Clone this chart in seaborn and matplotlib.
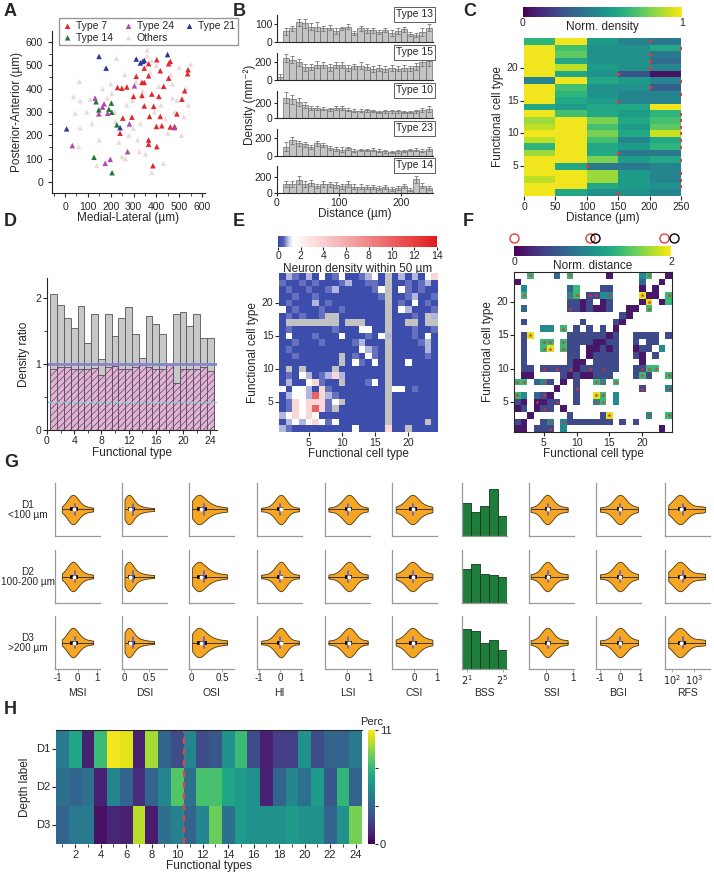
import matplotlib
matplotlib.use('Agg')
import numpy as np
import pandas as pd
import matplotlib.pyplot as plt
from matplotlib.colors import LinearSegmentedColormap
from matplotlib.ticker import MultipleLocator, NullLocator
import seaborn as sns

sns.set_style('ticks')
plt.rcParams['font.family'] = ['Liberation Sans', 'DejaVu Sans']
plt.rcParams['axes.unicode_minus'] = False
plt.rcParams['hatch.linewidth'] = 0.5
plt.rcParams['axes.linewidth'] = 0.8

W, H = 714, 872
TICK = 7.5
LAB = 8.5

# ---------------- A: cell positions (um) ----------------
a_type7_x = [230, 249, 271, 312, 337, 347, 366, 347, 366, 300, 337, 380, 347, 370, 388, 293, 253, 366, 366, 385,
             402, 400, 417, 424, 411, 432, 417, 402, 454, 461, 454, 461, 480, 490, 512, 524, 539, 537, 241]
a_type7_y = [405, 402, 407, 453, 427, 427, 455, 488, 507, 367, 371, 377, 326, 281, 324, 278, 274, 180, 162, 70,
             152, 238, 281, 241, 367, 410, 477, 524, 445, 517, 507, 236, 238, 292, 355, 391, 481, 464, 209]
a_type24_x = [32, 132, 164, 171, 187, 148, 176, 198, 274, 282, 304, 479]
a_type24_y = [156, 359, 321, 335, 295, 292, 80, 97, 130, 249, 412, 233]
a_type21_x = [7, 149, 180, 312, 330, 340, 347, 449, 241]
a_type21_y = [228, 538, 488, 527, 510, 517, 521, 546, 233]
a_type14_x = [127, 136, 148, 192, 203, 205, 227, 206]
a_type14_y = [106, 344, 309, 312, 338, 299, 245, 40]
a_other_x = [37, 63, 66, 44, 66, 110, 139, 60, 95, 118, 150, 165, 185, 200, 205, 218, 225, 236, 250, 262,
             270, 280, 296, 310, 318, 325, 330, 340, 352, 360, 372, 380, 392, 400, 410, 420, 430, 440, 450, 462,
             470, 480, 490, 500, 510, 520, 530, 540, 550, 360, 300, 265, 220, 380, 470]
a_other_y = [366, 431, 348, 295, 231, 355, 70, 150, 300, 250, 180, 400, 360, 420, 380, 300, 530, 170, 110, 460,
             330, 200, 350, 430, 180, 130, 250, 390, 120, 565, 470, 40, 300, 500, 410, 330, 80, 270, 210, 460,
             420, 300, 350, 490, 200, 280, 400, 330, 505, 540, 230, 100, 260, 520, 360]

# ---------------- B: density vs distance ----------------
b_bins = list(range(0, 250, 10))
b_names = ['Type 13', 'Type 15', 'Type 10', 'Type 23', 'Type 14']
b_mean = {
    'Type 13': [0, 60, 75, 110, 105, 85, 85, 75, 80, 60, 75, 85, 50, 75, 65, 65, 55, 65, 50, 60, 70, 45, 40, 55, 80],
    'Type 15': [30, 240, 225, 195, 140, 145, 170, 165, 140, 165, 165, 135, 150, 160, 145, 120, 135, 120, 135, 125, 130, 130, 150, 205, 210],
    'Type 10': [0, 265, 240, 210, 165, 130, 130, 120, 115, 130, 125, 110, 95, 95, 100, 90, 80, 90, 90, 85, 75, 80, 90, 100, 115],
    'Type 23': [0, 105, 175, 140, 130, 100, 140, 120, 90, 80, 70, 85, 60, 65, 65, 70, 60, 50, 45, 50, 55, 65, 70, 60, 80],
    'Type 14': [0, 110, 110, 155, 110, 120, 85, 110, 105, 100, 80, 110, 75, 75, 70, 70, 65, 75, 50, 65, 80, 40, 165, 90, 60],
}
b_err = {
    'Type 13': [None, 20, 15, 20, 25, 20, 25, 15, 15, 15, 10, 15, 10, 15, 15, 15, 10, 10, 15, 15, 15, 10, 10, 20, 20],
    'Type 15': [35, 45, 40, 35, 35, 35, 40, 35, 35, 35, 35, 30, 30, 35, 30, 30, 30, 30, 35, 30, 35, 30, 35, 45, 50],
    'Type 10': [None, 70, 60, 50, 40, 25, 25, 20, 20, 25, 25, 20, 20, 20, 20, 15, 15, 20, 20, 20, 15, 15, 20, 25, 40],
    'Type 23': [None, 45, 40, 30, 25, 25, 30, 25, 20, 20, 25, 20, 15, 15, 15, 20, 15, 15, 15, 15, 15, 15, 20, 20, 20],
    'Type 14': [None, 40, 35, 50, 35, 35, 30, 35, 35, 35, 30, 35, 30, 30, 25, 25, 25, 25, 20, 25, 25, 20, 45, 35, 25],
}
b_ymax = {'Type 13': 150, 'Type 15': 300, 'Type 10': 350, 'Type 23': 300, 'Type 14': 330}

# ---------------- C: normalised density (rows: type 24 -> 1) ----------------
c_types = list(range(24, 0, -1))
c_cols = ['0-50', '50-100', '100-150', '150-200', '200-250']
c_density = [
    [0.65, 0.98, 0.55, 0.45, 0.40], [0.98, 0.70, 0.50, 0.50, 0.60], [0.98, 0.75, 0.50, 0.50, 0.40],
    [0.98, 0.60, 0.50, 0.50, 0.35], [0.98, 0.90, 0.55, 0.50, 0.45], [0.98, 0.60, 0.50, 0.25, 0.05],
    [0.45, 0.98, 0.60, 0.55, 0.45], [0.98, 0.70, 0.50, 0.50, 0.30], [0.98, 0.65, 0.50, 0.45, 0.45],
    [0.98, 0.60, 0.55, 0.45, 0.45], [0.60, 0.55, 0.60, 0.60, 0.98], [0.98, 0.70, 0.60, 0.55, 0.65],
    [0.85, 0.98, 0.80, 0.60, 0.70], [0.90, 0.98, 0.70, 0.55, 0.75], [0.98, 0.98, 0.80, 0.60, 0.92],
    [0.90, 0.98, 0.70, 0.45, 0.60], [0.65, 0.98, 0.60, 0.55, 0.65], [0.85, 0.98, 0.60, 0.40, 0.40],
    [0.98, 0.98, 0.80, 0.55, 0.60], [0.98, 0.60, 0.40, 0.40, 0.45], [0.98, 0.98, 0.85, 0.55, 0.45],
    [0.90, 0.98, 0.85, 0.55, 0.45], [0.98, 0.98, 0.60, 0.55, 0.50], [0.98, 0.60, 0.50, 0.50, 0.45],
]
c_cutoff = [200, 250, 200, 200, 200, 150, 250, 200, 250, 150, None, 250,
            250, 250, 250, 250, 250, 150, 250, 100, 250, 250, 250, 150]

# ---------------- D: density ratio ----------------
d_types = list(range(1, 25))
d_near = [2.06, 1.89, 1.69, 1.54, 1.87, 1.31, 1.75, 1.07, 1.75, 1.42, 1.69, 1.86,
          1.46, 1.09, 1.72, 1.60, 1.45, 1.00, 1.75, 1.79, 1.58, 1.76, 1.39, 1.39]
d_far = [0.93, 0.95, 0.96, 0.92, 0.92, 0.93, 0.94, 0.83, 0.95, 0.97, 0.92, 0.93,
         0.95, 0.99, 0.95, 0.92, 0.93, 1.00, 0.71, 0.92, 0.93, 0.92, 0.96, 0.89]
d_shuffle = 0.42

# ---------------- E: neuron density within 50 um (rows: type 24 -> 1) ----------------
e_levels = {'b': 0.15, 'm': 0.55, 'l': 0.85, 'w': 1.4, 'p': 3.5, 'q': 6.0, 'r': 10.0, 'R': 13.5, 'g': np.nan}
e_rows = [
    "blmblbwbmwbbmlwbgblblbwp", "mbbmbmbbbmlbbmmbgbbmbmlb", "bmbbmbbmlbbbbbmwgbwmbmbb",
    "bbmbbmbbbbbbbbbmgbbmlbbm", "bmbbblbmbbbbbbbbgbmbwbmb", "wbmbbbmbbmbbbbbbgbwlbbbm",
    "bmbmbbmggbbbbbbbgbbbmbgl", "bggggggggbgggbbbgbbggbgg", "bmbbbbbbmbbbwwbbgbbbmbbm",
    "bwbbbmbbbwbbbmbwlbbbmbwb", "bbmbbbmbbbbmlbbbgbbbbmlb", "bmbbbbbbbbbbwlmbgbbbbblb",
    "bbmbbbbbbgbmbwmbgbbbbbmb", "bbbbbbbbbgbwmbwbgbbwbbbb", "bgbgbbbbgbbbbbbbgbbbbbbb",
    "bmbwlbmlplbbbbbbgbbbbbbb", "blbbwpmbbgbbbmwbgbbbbbbb", "wbwwlbpmbbbbbbbbgwwbmbbb",
    "blwwlRplmbbbbbbbgbbbbbbb", "bmpwpppmwgbbbbbbgbbbbbbb", "bmpwprpmgbbbbbbbgbbbbbbb",
    "lwpwpwbbbbbbbbbbgbbbbbbb", "blwlwpwmwbbbbbbbgbbbbbgb", "lmbbbbbbbbbwbbbbpbbgbbbb",
]

# ---------------- F: normalised distance (rows: type 24 -> 1), upper case = significant ----------------
f_levels = {'d': 0.12, 'b': 0.45, 'u': 0.65, 't': 0.95, 'g': 1.35, 'y': 1.9}
f_rows = [
    "..G...u.G.....d....tG..d", "d..................u..d.", ".t......ug...bb....d.d..",
    ".G......TG.BBtT....Ydd.G", "........bbdb.db....dY.dg", ".u......Bbdbddb..dd.G...",
    "................bd......", ".b........b....bd.......", "....tt.G.b.b.b.d........",
    ".bY.....bbbbbbdb..bbbb.b", ".b..GG.Gbbbbddbb..b.bb..", ".b..GY.Gbb.ddbdb..dbb.t.",
    ".b......bb.dbbbb..bd.b..", ".b......bdd.bbbb...d....", ".bb.BbBbBdbBbBbb..bBGG..",
    ".dd....bdbddbbb...bGb..G", "GG.uTb.d.b..GT.G........", "......d..B.........B...T",
    "Gt.uBd...b..YG.t........", "bd.DdbB..b..TG.t........", "db.dBb.d................",
    "..d.....b....bY.....T..G", "bd..bT.Tbbbbbbb.b.b.....", "dd.bbB.t..............d.",
]
f_red_marks = [0.0, 0.97, 1.91]
f_black_marks = [1.03, 2.04]

# ---------------- G: response indices by depth ----------------
g_metrics = ['MSI', 'DSI', 'OSI', 'HI', 'LSI', 'CSI', 'BSS', 'SSI', 'BGI', 'RFS']
g_depths = ['D1\n<100 µm', 'D2\n100-200 µm', 'D3\n>200 µm']
g_samples = {
    'MSI': [-0.8, -0.6, -0.5, -0.45, -0.4, -0.35, -0.3, -0.3, -0.25, -0.2, -0.2, -0.15, -0.1, -0.05, 0, 0.05, 0.15, 0.3, 0.5, 0.8],
    'DSI': [0.01, 0.03, 0.05, 0.06, 0.07, 0.08, 0.09, 0.1, 0.11, 0.12, 0.14, 0.16, 0.18, 0.22, 0.28, 0.35, 0.45, 0.6],
    'OSI': [0.02, 0.05, 0.07, 0.09, 0.1, 0.12, 0.13, 0.15, 0.17, 0.19, 0.22, 0.25, 0.3, 0.36, 0.45, 0.58],
    'HI': [-0.9, -0.5, -0.3, -0.2, -0.1, -0.05, 0, 0.02, 0.05, 0.08, 0.1, 0.15, 0.2, 0.3, 0.5, 0.9],
    'LSI': [-0.8, -0.4, -0.25, -0.1, -0.05, 0, 0.05, 0.1, 0.12, 0.15, 0.2, 0.25, 0.35, 0.5, 0.9],
    'CSI': [-0.8, -0.5, -0.35, -0.25, -0.15, -0.1, -0.08, -0.05, 0, 0.05, 0.15, 0.3, 0.5, 0.8],
    'SSI': [-0.6, -0.3, -0.15, -0.08, -0.03, 0, 0.03, 0.05, 0.08, 0.12, 0.18, 0.3, 0.5, 0.8],
    'BGI': [-1, -0.5, -0.3, -0.15, -0.08, -0.03, 0, 0.03, 0.08, 0.15, 0.3, 0.5, 0.9],
    'RFS': [70, 110, 150, 180, 200, 220, 240, 260, 300, 350, 450, 700, 1500, 3000],
}
g_bss = [[0.63, 0.46, 0.57, 0.89, 0.38],
         [0.64, 0.73, 0.54, 0.53, 0.49],
         [0.76, 0.71, 0.49, 0.55, 0.36]]
g_xlim = {'MSI': (-1.15, 1.15), 'DSI': (-0.04, 0.86), 'OSI': (-0.03, 0.69), 'HI': (-1.1, 1.05),
          'LSI': (-0.95, 1.0), 'CSI': (-0.96, 1.0), 'BSS': (0.5, 5.5), 'SSI': (-0.66, 1.04),
          'BGI': (-1.2, 1.05), 'RFS': (50, 5000)}
g_ticks = {'MSI': ([-1, 0, 1], ['-1', '0', '1']), 'DSI': ([0, 0.5], ['0', '0.5']),
           'OSI': ([0, 0.5], ['0', '0.5']), 'HI': ([-1, 0, 1], ['-1', '0', '1']),
           'LSI': ([0, 1], ['0', '1']), 'CSI': ([0, 1], ['0', '1']),
           'BSS': ([1, 5], ['$2^1$', '$2^5$']), 'SSI': ([0, 1], ['0', '1']),
           'BGI': ([-1, 0, 1], ['-1', '0', '1']), 'RFS': ([100, 1000], ['$10^2$', '$10^3$'])}

# ---------------- H: percentage per depth ----------------
h_depth = ['D1', 'D2', 'D3']
h_types = list(range(1, 25))
h_d1 = [4.5, 6.5, 1.0, 7.5, 10.8, 10.5, 1.0, 9.5, 3.5, 2.5, 5.0, 2.5, 3.0, 5.5, 7.5, 2.5, 1.0, 2.0, 2.0, 5.5, 2.5, 3.5, 3.5, 4.5]
h_d2 = [4.0, 3.5, 4.0, 1.0, 5.0, 3.5, 1.5, 3.5, 5.0, 8.0, 4.0, 7.8, 7.8, 6.5, 6.0, 5.5, 1.0, 3.5, 5.0, 4.0, 6.0, 3.0, 7.2, 3.5]
h_d3 = [3.5, 4.5, 4.5, 0.5, 1.2, 1.0, 9.8, 0.8, 4.0, 4.8, 3.5, 5.0, 8.5, 4.0, 6.0, 5.5, 5.5, 5.5, 6.0, 5.5, 5.5, 3.5, 5.5, 8.7]
h_split = 10


def box(x0, y0, x1, y1):
    return [x0 / W, 1 - y1 / H, (x1 - x0) / W, (y1 - y0) / H]


def letter(x, y, s):
    fig.text(x / W, 1 - y / H, s, fontsize=13, fontweight='bold', va='center', ha='left')


def decode(rows, levels):
    return np.array([[levels.get(ch.lower(), np.nan) for ch in r.ljust(24, '.')[:24]] for r in rows])


fig = plt.figure(figsize=(W / 100, H / 100), dpi=100)

# ================= A =================
axA = fig.add_axes(box(52, 31, 205, 193))
sns.scatterplot(x=a_other_x, y=a_other_y, marker='^', s=14, color='#ead9df', edgecolor='none', ax=axA, label='Others')
groups = [('Type 7', a_type7_x, a_type7_y, '#e3262b'), ('Type 14', a_type14_x, a_type14_y, '#1f7a30'),
          ('Type 24', a_type24_x, a_type24_y, '#b545b0'), ('Type 21', a_type21_x, a_type21_y, '#27379a')]
for name, xs, ys, col in groups:
    sns.scatterplot(x=xs, y=ys, marker='^', s=16, color=col, edgecolor='none', ax=axA, label=name)
hd, lb = axA.get_legend_handles_labels()
order = ['Type 7', 'Type 14', 'Type 24', 'Others', 'Type 21']
hmap = dict(zip(lb, hd))
axA.legend([hmap[o] for o in order], order, ncol=3, loc='upper left', bbox_to_anchor=(0.01, 1.11),
           fontsize=7.5, handletextpad=0.2, columnspacing=0.9, borderpad=0.25, labelspacing=0.15,
           handlelength=1.2, frameon=True, fancybox=False, edgecolor='#999999', framealpha=1)
axA.set_xlim(-57, 613)
axA.set_ylim(-47, 647)
axA.xaxis.set_major_locator(MultipleLocator(100))
axA.xaxis.set_minor_locator(MultipleLocator(50))
axA.yaxis.set_major_locator(MultipleLocator(100))
axA.yaxis.set_minor_locator(MultipleLocator(50))
axA.set_xlabel('Medial-Lateral (µm)', fontsize=LAB, labelpad=0)
axA.set_ylabel('Posterior-Anterior (µm)', fontsize=LAB, labelpad=2)
axA.tick_params(labelsize=TICK, length=3, width=0.8)
axA.tick_params(which='minor', length=2, width=0.6)
sns.despine(ax=axA)

# ================= B =================
b_top = [15, 53, 91, 129, 166]
b_bot = [42, 80, 118, 156, 193]
for i, name in enumerate(b_names):
    ax = fig.add_axes(box(277, b_top[i], 433, b_bot[i]))
    err = np.array(b_err[name], dtype=float)
    ax.bar(b_bins, b_mean[name], width=10, align='edge', color='#c4c4c4', edgecolor='#6a6a6a', linewidth=0.5,
           yerr=err, error_kw=dict(ecolor='#777777', elinewidth=0.6, capsize=1.6, capthick=0.6))
    ax.set_xlim(0, 252)
    ax.set_ylim(0, b_ymax[name])
    ax.set_yticks([0, 100] if name == 'Type 13' else [0, 200])
    ax.tick_params(labelsize=TICK, length=2.5, width=0.8, pad=1)
    ax.text(1.0, 1.02, name, transform=ax.transAxes, ha='right', va='center', fontsize=7.5,
            bbox=dict(boxstyle='square,pad=0.2', fc='white', ec='#444444', lw=0.6))
    sns.despine(ax=ax)
    if i < 4:
        ax.set_xticks([])
    else:
        ax.set_xticks([0, 100, 200])
        ax.set_xlabel('Distance (µm)', fontsize=LAB, labelpad=0)
fig.text(250 / W, 1 - 105 / H, 'Density (mm⁻²)', rotation=90, ha='center', va='center', fontsize=LAB)

# ================= C =================
caxC = fig.add_axes(box(523, 7, 682, 17))
axC = fig.add_axes(box(524, 38, 681, 196))
dfC = pd.DataFrame(c_density, index=c_types, columns=c_cols)
sns.heatmap(dfC, cmap='viridis', vmin=0, vmax=1, ax=axC, cbar_ax=caxC,
            cbar_kws={'orientation': 'horizontal', 'ticks': [0, 1]})
caxC.tick_params(labelsize=TICK, length=0, pad=1)
caxC.text(0.5, -0.4, 'Norm. density', transform=caxC.transAxes, ha='center', va='top', fontsize=LAB)
for t, d in zip(c_types, c_cutoff):
    if d is not None:
        axC.plot(d / 50, c_types.index(t) + 0.5, 'o', color='#e03a3e', ms=2.4, mec='none')
axC.set_xticks(range(6))
axC.set_xticklabels(['0', '50', '100', '150', '200', '250'], rotation=0)
axC.set_yticks([c_types.index(t) + 0.5 for t in (5, 10, 15, 20)])
axC.set_yticklabels(['5', '10', '15', '20'], rotation=0)
axC.tick_params(labelsize=TICK, length=3, width=0.8, pad=1)
axC.set_xlabel('Distance (µm)', fontsize=LAB, labelpad=0)
axC.set_ylabel('Functional cell type', fontsize=LAB, labelpad=2)

# ================= D =================
axD = fig.add_axes(box(47, 278, 217, 430))
axD.bar(d_types, d_near, width=1, color='#c8c8c8', edgecolor='#555555', linewidth=0.6)
axD.bar(d_types, d_far, width=1, facecolor='#e2b4d4', edgecolor='#5a4560', linewidth=0.6, hatch='/////')
axD.axhline(1, color='#8587c9', lw=2)
axD.axhline(d_shuffle, color='#7fd0e0', lw=1, ls=(0, (4, 2)))
axD.set_xlim(0, 25)
axD.set_ylim(0, 2.3)
axD.set_xticks(range(0, 25, 4))
axD.xaxis.set_minor_locator(MultipleLocator(2))
axD.set_yticks([0, 1, 2])
axD.yaxis.set_minor_locator(MultipleLocator(0.5))
axD.tick_params(labelsize=TICK, length=3, width=0.8, pad=1)
axD.tick_params(which='minor', length=2, width=0.6)
axD.set_xlabel('Functional type', fontsize=LAB, labelpad=1)
axD.set_ylabel('Density ratio', fontsize=LAB, labelpad=4)
sns.despine(ax=axD)

# ================= E =================
cmapE = LinearSegmentedColormap.from_list('e', [(0, '#3446a8'), (0.5 / 14, '#5864b9'), (0.9 / 14, '#c6c9e8'),
                                               (1.3 / 14, '#ffffff'), (1, '#e31a1c')])
caxE = fig.add_axes(box(278, 236, 437, 247))
axE = fig.add_axes(box(279, 273, 438, 432))
matE = decode(e_rows, e_levels)
axE.set_facecolor('#c2c2c2')
sns.heatmap(matE, cmap=cmapE, vmin=0, vmax=14, ax=axE, cbar_ax=caxE,
            cbar_kws={'orientation': 'horizontal', 'ticks': list(range(0, 15, 2))})
caxE.tick_params(labelsize=TICK, length=2, pad=1)
caxE.set_xlabel('Neuron density within 50 µm', fontsize=LAB, labelpad=1)
axE.set_xticks([t - 0.5 for t in (5, 10, 15, 20)])
axE.set_xticklabels(['5', '10', '15', '20'], rotation=0)
axE.set_yticks([24 - t + 0.5 for t in (5, 10, 15, 20)])
axE.set_yticklabels(['5', '10', '15', '20'], rotation=0)
axE.tick_params(labelsize=TICK, length=3, width=0.8, pad=1)
axE.set_xlabel('Functional cell type', fontsize=LAB, labelpad=0)
axE.set_ylabel('Functional cell type', fontsize=LAB, labelpad=2)

# ================= F =================
caxF = fig.add_axes(box(514, 246, 671, 256))
axF = fig.add_axes(box(514, 272, 672, 432))
matF = decode(f_rows, f_levels)
axF.set_facecolor('white')
sns.heatmap(matF, cmap='viridis', vmin=0, vmax=2, ax=axF, cbar_ax=caxF,
            cbar_kws={'orientation': 'horizontal', 'ticks': [0, 2]})
for r, row in enumerate(f_rows):
    for c, ch in enumerate(row.ljust(24, '.')[:24]):
        if ch.isupper():
            axF.plot(c + 0.5, r + 0.5, '*', color='#e0303a', ms=3.2, mec='none')
caxF.tick_params(labelsize=TICK, length=0, pad=1)
caxF.text(0.5, -0.4, 'Norm. distance', transform=caxF.transAxes, ha='center', va='top', fontsize=LAB)
tr = caxF.get_xaxis_transform()
caxF.plot(f_red_marks, [1.8] * len(f_red_marks), 'o', mfc='none', mec='#e04040', ms=6.5, mew=1, transform=tr, clip_on=False)
caxF.plot(f_black_marks, [1.8] * len(f_black_marks), 'o', mfc='none', mec='black', ms=6.5, mew=1, transform=tr, clip_on=False)
for s in axF.spines.values():
    s.set_visible(True)
    s.set_linewidth(0.8)
axF.set_xticks([t - 0.5 for t in (5, 10, 15, 20)])
axF.set_xticklabels(['5', '10', '15', '20'], rotation=0)
axF.set_yticks([24 - t + 0.5 for t in (5, 10, 15, 20)])
axF.set_yticklabels(['5', '10', '15', '20'], rotation=0)
axF.tick_params(labelsize=TICK, length=3, width=0.8, pad=1)
axF.set_xlabel('Functional cell type', fontsize=LAB, labelpad=0)
axF.set_ylabel('Functional cell type', fontsize=LAB, labelpad=2)

# ================= G =================
g_left = [55, 122, 189, 257, 325, 392, 462, 529, 596, 665]
g_top = [483, 550, 616]
for r in range(3):
    fig.text(28 / W, 1 - (g_top[r] + 27) / H, g_depths[r], ha='center', va='center', fontsize=7.2, linespacing=1.1)
    for c, m in enumerate(g_metrics):
        ax = fig.add_axes(box(g_left[c], g_top[r], g_left[c] + 45, g_top[r] + 53))
        if m == 'BSS':
            ax.bar([1, 2, 3, 4, 5], g_bss[r], width=1, color='#1e7d3b', edgecolor='#15381f', linewidth=0.6)
            ax.set_ylim(0, 1)
        else:
            vals = np.array(g_samples[m], dtype=float)
            sns.violinplot(x=vals, orient='h', ax=ax, color='#f5a623', saturation=1, inner=None, cut=0,
                           linewidth=0.6, linecolor='#4a3510', bw_adjust=0.9, width=1.0,
                           log_scale=True if m == 'RFS' else None)
            lv = np.log10(vals) if m == 'RFS' else vals
            q1, med, q3 = np.percentile(lv, [25, 50, 75])
            mu = lv.mean()
            back = (lambda v: 10 ** np.asarray(v)) if m == 'RFS' else (lambda v: np.asarray(v))
            ax.plot(back([lv.min(), lv.max()]), [0, 0], color='#222222', lw=0.6, zorder=3)
            ax.plot(back([q1, q3]), [0, 0], color='black', lw=2.6, solid_capstyle='butt', zorder=4)
            ax.plot(back([mu, mu]), [-0.2, 0.2], color='#6060c8', lw=1.2, zorder=5)
            ax.scatter(back([med]), [0], s=8, color='white', zorder=6, linewidths=0)
            ax.set_ylim(0.9, -0.9)
        ax.set_xlim(*g_xlim[m])
        ax.set_yticks([])
        for side in ('top', 'right'):
            ax.spines[side].set_visible(False)
        for side in ('left', 'bottom'):
            ax.spines[side].set_color('#9a9a9a')
            ax.spines[side].set_linewidth(0.9)
        ax.xaxis.set_minor_locator(NullLocator())
        if r < 2:
            ax.set_xticks([])
            ax.set_xlabel('')
        else:
            ax.set_xticks(g_ticks[m][0])
            ax.set_xticklabels(g_ticks[m][1])
            ax.xaxis.set_minor_locator(NullLocator())
            ax.tick_params(labelsize=7, length=2, width=0.6, pad=1, color='#9a9a9a')
            ax.set_xlabel(m, fontsize=7.5)
            ax.xaxis.set_label_coords(0.5, -0.36)

# ================= H =================
axH = fig.add_axes(box(56, 730, 362, 844))
caxH = fig.add_axes(box(368, 730, 375, 844))
dfH = pd.DataFrame([h_d1, h_d2, h_d3], index=h_depth, columns=h_types)
sns.heatmap(dfH, cmap='viridis', vmin=0, vmax=11, ax=axH, cbar_ax=caxH,
            cbar_kws={'ticks': [0, 11 / 3, 22 / 3, 11]})
caxH.set_yticklabels(['0', '', '', '11'])
caxH.tick_params(labelsize=8, length=2.5, pad=1)
caxH.text(0.5, 1.03, 'Perc', transform=caxH.transAxes, ha='center', va='bottom', fontsize=8)
axH.axvline(h_split, color='#d84848', lw=1.6, ls=(0, (3, 2)))
axH.set_xticks([t - 0.5 for t in h_types if t % 2 == 0])
axH.set_xticklabels([str(t) for t in h_types if t % 2 == 0], rotation=0)
axH.set_xticks([t - 0.5 for t in h_types if t % 2 == 1], minor=True)
axH.set_yticklabels(h_depth, rotation=0)
axH.tick_params(labelsize=8, length=3, width=0.8, pad=1)
axH.tick_params(which='minor', length=2, width=0.6)
axH.spines['top'].set_visible(True)
axH.set_xlabel('Functional types', fontsize=8.5, labelpad=0)
axH.set_ylabel('Depth label', fontsize=8.5, labelpad=4)

for s, (x, y) in zip('ABCDEFGH', [(4, 12), (233, 12), (463, 12), (4, 222), (233, 222), (463, 222), (4, 462), (4, 710)]):
    letter(x, y, s)

fig.savefig('out.png', dpi=100)
